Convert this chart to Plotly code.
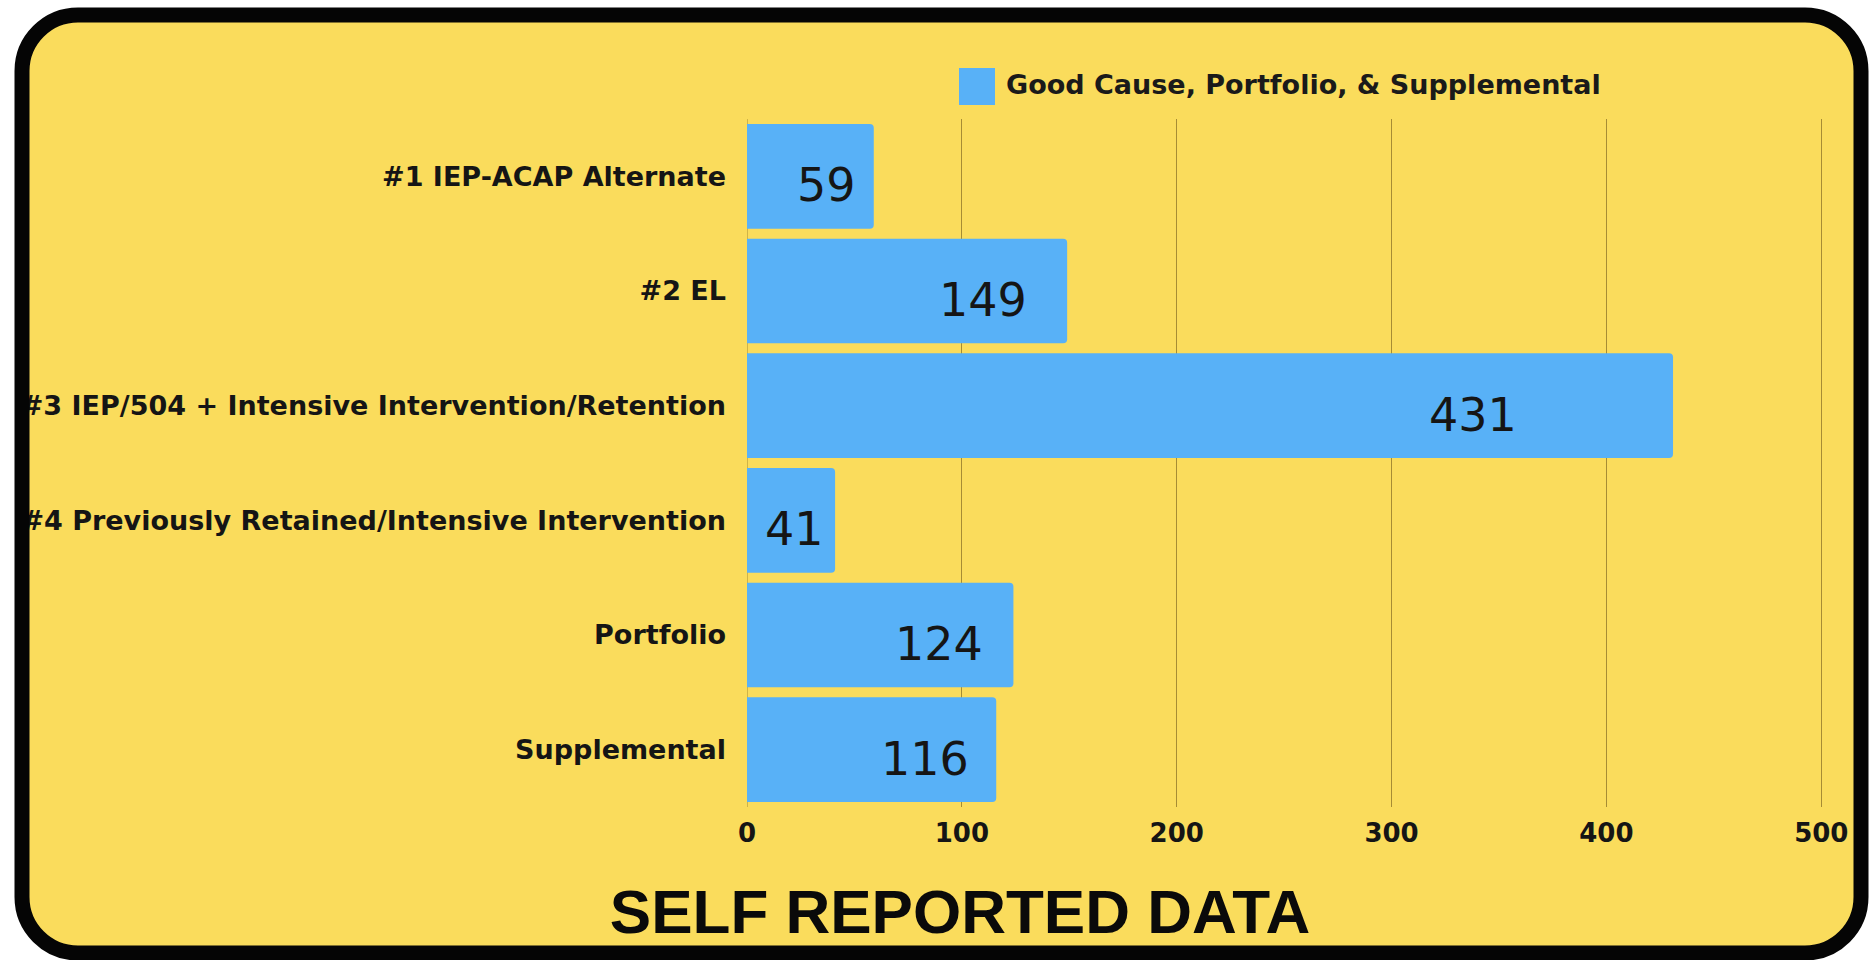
import plotly.graph_objects as go

# ---- data ----
categories = [
    "#1 IEP-ACAP Alternate",
    "#2 EL",
    "#3 IEP/504 + Intensive Intervention/Retention",
    "#4 Previously Retained/Intensive Intervention",
    "Portfolio",
    "Supplemental",
]
values = [59, 149, 431, 41, 124, 116]
series_name = "Good Cause, Portfolio, & Supplemental"
x_ticks = [0, 100, 200, 300, 400, 500]
chart_title = "SELF REPORTED DATA"

# ---- style ----
W, H = 1869, 960
PL, PR, PT, PB = 747, 1823, 119, 807  # plot area in pixels
YELLOW = "#FADC5C"
BLUE = "#58B1F7"
GRID = "rgba(130,105,35,0.7)"
BOLD = "DejaVu Sans"


def fx(p):
    return (p - PL) / (PR - PL)


def fy(p):
    return (PB - p) / (PB - PT)


def rounded_path(x0, y0, x1, y1, r):
    k = 0.5523 * r
    pts = []
    pts.append(f"M{fx(x0 + r)},{fy(y0)}")
    pts.append(f"L{fx(x1 - r)},{fy(y0)}")
    pts.append(f"C{fx(x1 - r + k)},{fy(y0)} {fx(x1)},{fy(y0 + r - k)} {fx(x1)},{fy(y0 + r)}")
    pts.append(f"L{fx(x1)},{fy(y1 - r)}")
    pts.append(f"C{fx(x1)},{fy(y1 - r + k)} {fx(x1 - r + k)},{fy(y1)} {fx(x1 - r)},{fy(y1)}")
    pts.append(f"L{fx(x0 + r)},{fy(y1)}")
    pts.append(f"C{fx(x0 + r - k)},{fy(y1)} {fx(x0)},{fy(y1 - r + k)} {fx(x0)},{fy(y1 - r)}")
    pts.append(f"L{fx(x0)},{fy(y0 + r)}")
    pts.append(f"C{fx(x0)},{fy(y0 + r - k)} {fx(x0 + r - k)},{fy(y0)} {fx(x0 + r)},{fy(y0)}")
    pts.append("Z")
    return " ".join(pts)


border = rounded_path(22, 15, 1861, 953, 56)

fig = go.Figure()
fig.add_trace(go.Bar(
    y=categories,
    x=values,
    orientation="h",
    name=series_name,
    marker=dict(color=BLUE, line=dict(width=0)),
    showlegend=False,
    hoverinfo="x+y",
))

annotations = []
for c, v in zip(categories, values):
    annotations.append(dict(
        x=0.81 * v - 11, y=c, xref="x", yref="y", text=str(v), showarrow=False,
        xanchor="center", yanchor="middle", yshift=-9,
        font=dict(family="DejaVu Sans", size=46, color="#151515"),
    ))

# legend text (manual legend to match the large swatch)
annotations.append(dict(
    x=fx(1004), y=fy(84), xref="paper", yref="paper", text=series_name,
    showarrow=False, xanchor="left", yanchor="middle",
    font=dict(family=BOLD, size=27, color="#1a1a1a", weight="bold"),
))

shapes = [
    dict(type="path", path=border, xref="paper", yref="paper",
         fillcolor=YELLOW, line=dict(width=0), layer="below"),
    dict(type="rect", xref="paper", yref="paper",
         x0=fx(959), x1=fx(995), y0=fy(105), y1=fy(68),
         fillcolor=BLUE, line=dict(width=0), layer="above"),
    dict(type="path", path=border, xref="paper", yref="paper",
         fillcolor="rgba(0,0,0,0)", line=dict(width=15, color="#050505"), layer="above"),
]

fig.update_layout(
    width=W, height=H, autosize=False,
    margin=dict(l=PL, r=W - PR, t=PT, b=H - PB, pad=0),
    paper_bgcolor="white",
    plot_bgcolor="rgba(0,0,0,0)",
    bargap=0.087,
    barcornerradius=4,
    title=dict(
        text=chart_title, xref="paper", yref="container",
        x=fx(960), y=1 - 911 / H, xanchor="center", yanchor="middle",
        font=dict(family="Liberation Sans", size=62, color="#0a0a0a", weight="bold"),
    ),
    annotations=annotations,
    shapes=shapes,
    xaxis=dict(
        range=[0, 500.8], tickvals=x_ticks, ticktext=[str(t) for t in x_ticks],
        showgrid=True, gridcolor=GRID, gridwidth=1.3,
        zeroline=True, zerolinecolor="rgba(130,105,35,0.35)", zerolinewidth=1,
        showline=False, ticks="", ticklabelstandoff=8,
        tickfont=dict(family=BOLD, size=26, color="#151515", weight="bold"),
        fixedrange=True, automargin=False,
    ),
    yaxis=dict(
        autorange="reversed", showgrid=False, zeroline=False, showline=False,
        ticks="", ticklabelstandoff=20, automargin=False,
        tickfont=dict(family=BOLD, size=27, color="#151515", weight="bold"),
        fixedrange=True,
    ),
)

fig.write_html(
    "out.html",
    config={"displayModeBar": False},
    post_script="document.body.style.margin='0px';document.body.style.overflow='hidden';",
)
